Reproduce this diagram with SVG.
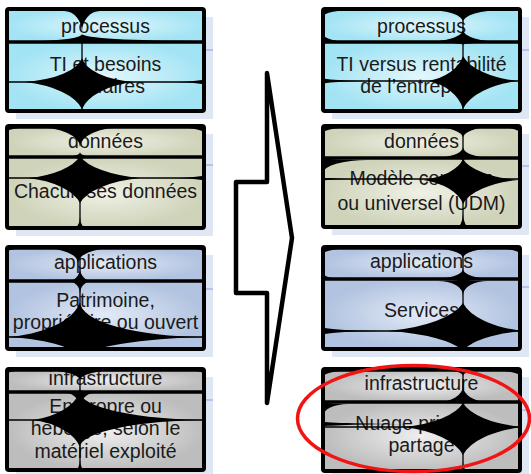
<svg xmlns="http://www.w3.org/2000/svg" width="531" height="474" viewBox="0 0 531 474">
<style>
.sh{fill:#dfe6f4}
.shl{stroke:#b3c4e6;stroke-width:2}
.box{fill:none;stroke:#000;stroke-width:4}
.div{stroke:#000;stroke-width:3.5}
.blk{fill:#000}
.tl{stroke:#000;stroke-width:1.3;fill:none}
.t{font-family:"Liberation Sans",Arial,sans-serif;font-size:19.5px;fill:#1a1a1a;text-anchor:middle}
.arrow{fill:#fff;stroke:#000;stroke-width:4.5;stroke-linejoin:round}
.ring{fill:none;stroke:#f01414;stroke-width:3.5}
</style>
<defs>
<radialGradient id="gc"><stop offset="0" stop-color="#e2f7fc"/><stop offset="1" stop-color="#a3e4f4"/></radialGradient>
<radialGradient id="gb"><stop offset="0" stop-color="#f0f1e6"/><stop offset="1" stop-color="#cfd3b9"/></radialGradient>
<radialGradient id="ga"><stop offset="0" stop-color="#e3eaf6"/><stop offset="1" stop-color="#b1c3e0"/></radialGradient>
<radialGradient id="gg"><stop offset="0" stop-color="#efefef"/><stop offset="1" stop-color="#bdbdbd"/></radialGradient>
<clipPath id="cL1"><rect x="7" y="9" width="197" height="102"/></clipPath>
<clipPath id="cL2"><rect x="7" y="126" width="197" height="102"/></clipPath>
<clipPath id="cL3"><rect x="7" y="247" width="197" height="102"/></clipPath>
<clipPath id="cL4"><rect x="7" y="369" width="197" height="101"/></clipPath>
<clipPath id="cR1"><rect x="323" y="9" width="197" height="102"/></clipPath>
<clipPath id="cR2"><rect x="323" y="126" width="197" height="101"/></clipPath>
<clipPath id="cR3"><rect x="323" y="247" width="197" height="102"/></clipPath>
<clipPath id="cR4"><rect x="323" y="369" width="197" height="102"/></clipPath>
</defs>

<g id="shadows">
<rect class="sh" x="16" y="17" width="197" height="102"/>
<rect class="sh" x="16" y="134" width="197" height="102"/>
<rect class="sh" x="16" y="255" width="197" height="102"/>
<rect class="sh" x="16" y="377" width="197" height="101"/>
<rect class="sh" x="332" y="17" width="197" height="102"/>
<rect class="sh" x="332" y="134" width="197" height="101"/>
<rect class="sh" x="332" y="255" width="197" height="102"/>
<rect class="sh" x="332" y="377" width="197" height="102"/>
<path class="shl" d="M204,50H213M204,165H213M204,289H213M204,400H213M520,50H529M520,166H529M520,287H529M520,410H529"/>
</g>

<g id="connectors">
<polygon class="arrow" points="267,73 292,238 267,403 267,293 236,293 236,182 267,182"/>
</g>

<g id="left-processus">
<rect x="7" y="9" width="197" height="33" fill="url(#gc)"/>
<rect x="7" y="42" width="197" height="69" fill="url(#gc)"/>
<text class="t" x="105.5" y="33">processus</text>
<text class="t" x="105.5" y="71">TI et besoins</text>
<text class="t" x="105.5" y="93">d’affaires</text>
<g clip-path="url(#cL1)">
<path class="blk" d="M64,11 A18,2 0 0 0 82,9 A18,2 0 0 0 100,11 A18,21 0 0 0 82,32 A18,21 0 0 0 64,11Z
M32,41 A50,7 0 0 0 82,34 A115,7 0 0 0 197,41 A115,1 0 0 0 82,42 A50,1 0 0 0 32,41Z
M25,82 A70,28 0 0 0 82,58 A63,28 0 0 0 133,82 A69,36 0 0 0 82,109 A77,36 0 0 0 25,82Z
M173,82 A41,7 0 0 0 214,75 A10,7 0 0 0 224,82 A10,7 0 0 0 214,89 A41,7 0 0 0 173,82Z"/>
<path class="tl" d="M7,82H204M82,42V111"/>
</g>
<rect class="box" x="7" y="9" width="197" height="102" rx="2"/>
<path class="div" d="M7,42H204"/>
</g>

<g id="right-processus">
<rect x="323" y="9" width="197" height="33" fill="url(#gc)"/>
<rect x="323" y="42" width="197" height="69" fill="url(#gc)"/>
<text class="t" x="421.5" y="33">processus</text>
<text class="t" x="421.5" y="71">TI versus rentabilité</text>
<text class="t" x="421.5" y="93">de l’entreprise</text>
<g clip-path="url(#cR1)">
<path class="blk" d="M428,10 A35,2 0 0 0 463,8 A40,2 0 0 0 503,10 A40,12 0 0 0 463,22 A35,12 0 0 0 428,10Z
M423,42 A40,12 0 0 0 463,30 A40,12 0 0 0 503,42 A40,3 0 0 0 463,45 A40,3 0 0 0 423,42Z
M318,10 A5,2 0 0 0 323,8 A30,2 0 0 0 353,10 A30,7 0 0 0 323,17 A5,7 0 0 0 318,10Z
M318,42 A5,8 0 0 0 323,34 A30,8 0 0 0 353,42 A30,2 0 0 0 323,44 A5,2 0 0 0 318,42Z
M428,81 A47,34 0 0 0 463,56 A74,34 0 0 0 518,81 A74,38 0 0 0 463,109 A47,38 0 0 0 428,81Z
M311,81 A5,5 0 0 0 316,76 A50,5 0 0 0 366,81 A50,5 0 0 0 316,86 A5,5 0 0 0 311,81Z"/>
<path class="tl" d="M323,81H520M463,9V111"/>
</g>
<rect class="box" x="323" y="9" width="197" height="102" rx="2"/>
<path class="div" d="M323,42H520"/>
</g>

<g id="left-donnees">
<rect x="7" y="126" width="197" height="31" fill="url(#gb)"/>
<rect x="7" y="157" width="197" height="71" fill="url(#gb)"/>
<text class="t" x="105.5" y="148">données</text>
<text class="t" x="105.5" y="198">Chacun ses données</text>
<g clip-path="url(#cL2)">
<path class="blk" d="M35,127 A45,2 0 0 0 80,125 A45,2 0 0 0 125,127 A45,20 0 0 0 80,147 A45,20 0 0 0 35,127Z
M169,127 A35,2 0 0 0 204,125 A5,2 0 0 0 209,127 A5,6 0 0 0 204,133 A35,6 0 0 0 169,127Z
M2,127 A5,2 0 0 0 7,125 A30,2 0 0 0 37,127 A30,5 0 0 0 7,132 A5,5 0 0 0 2,127Z
M65,157 A15,5 0 0 0 80,152 A15,5 0 0 0 95,157 A15,3 0 0 0 80,160 A15,3 0 0 0 65,157Z
M28,178 A70,30 0 0 0 80,156 A81,30 0 0 0 140,178 A81,34 0 0 0 80,203 A70,34 0 0 0 28,178Z
M72,229 A8,12 0 0 0 80,217 A8,12 0 0 0 88,229 A8,2 0 0 0 80,231 A8,2 0 0 0 72,229Z
M173,178 A41,7 0 0 0 214,171 A10,7 0 0 0 224,178 A10,7 0 0 0 214,185 A41,7 0 0 0 173,178Z"/>
<path class="tl" d="M7,178H204M80,157V228M7,128H204"/>
</g>
<rect class="box" x="7" y="126" width="197" height="102" rx="2"/>
<path class="div" d="M7,157H204"/>
</g>

<g id="right-donnees">
<rect x="323" y="126" width="197" height="32" fill="url(#gb)"/>
<rect x="323" y="158" width="197" height="69" fill="url(#gb)"/>
<text class="t" x="421.5" y="148">données</text>
<text class="t" x="421.5" y="185">Modèle commun</text>
<text class="t" x="421.5" y="210">ou universel (UDM)</text>
<g clip-path="url(#cR2)">
<path class="blk" d="M433,127 A30,2 0 0 0 463,125 A30,2 0 0 0 493,127 A30,11 0 0 0 463,138 A30,11 0 0 0 433,127Z
M433,158 A30,11 0 0 0 463,147 A30,11 0 0 0 493,158 A30,2 0 0 0 463,160 A30,2 0 0 0 433,158Z
M318,127 A5,2 0 0 0 323,125 A35,2 0 0 0 358,127 A35,6 0 0 0 323,133 A5,6 0 0 0 318,127Z
M495,127 A25,2 0 0 0 520,125 A5,2 0 0 0 525,127 A5,6 0 0 0 520,133 A25,6 0 0 0 495,127Z
M318,160 A5,2 0 0 0 323,158 A45,2 0 0 0 368,160 A45,13 0 0 0 323,173 A5,13 0 0 0 318,160Z
M423,180 A54,28 0 0 0 463,159 A74,28 0 0 0 518,180 A74,32 0 0 0 463,204 A54,32 0 0 0 423,180Z
M311,179 A5,3 0 0 0 316,176 A40,3 0 0 0 356,179 A40,3 0 0 0 316,182 A5,3 0 0 0 311,179Z
M455,228 A8,14 0 0 0 463,214 A8,14 0 0 0 471,228 A8,2 0 0 0 463,230 A8,2 0 0 0 455,228Z"/>
<path class="tl" d="M323,179H520M463,126V227M323,128H520"/>
</g>
<rect class="box" x="323" y="126" width="197" height="101" rx="2"/>
<path class="div" d="M323,158H520"/>
</g>

<g id="left-applications">
<rect x="7" y="247" width="197" height="34" fill="url(#ga)"/>
<rect x="7" y="281" width="197" height="68" fill="url(#ga)"/>
<text class="t" x="105.5" y="269">applications</text>
<text class="t" x="105.5" y="307">Patrimoine,</text>
<text class="t" x="105.5" y="329">propriétaire ou ouvert</text>
<g clip-path="url(#cL3)">
<path class="blk" d="M43,248 A35,2 0 0 0 78,246 A35,2 0 0 0 113,248 A35,15 0 0 0 78,263 A35,15 0 0 0 43,248Z
M2,248 A5,2 0 0 0 7,246 A25,2 0 0 0 32,248 A25,4 0 0 0 7,252 A5,4 0 0 0 2,248Z
M179,248 A25,2 0 0 0 204,246 A5,2 0 0 0 209,248 A5,4 0 0 0 204,252 A25,4 0 0 0 179,248Z
M68,281 A12,13 0 0 0 80,268 A12,13 0 0 0 92,281 A12,13 0 0 0 80,294 A12,13 0 0 0 68,281Z
M5,337 A85,42 0 0 0 80,302 A125,35 0 0 0 205,337 A150,24 0 0 0 80,357 A90,24 0 0 0 5,337Z"/>
<path class="tl" d="M7,249H204M80,247V349M7,337H204"/>
</g>
<rect class="box" x="7" y="247" width="197" height="102" rx="2"/>
<path class="div" d="M7,281H204"/>
</g>

<g id="right-applications">
<rect x="323" y="247" width="197" height="32" fill="url(#ga)"/>
<rect x="323" y="279" width="197" height="70" fill="url(#ga)"/>
<text class="t" x="421.5" y="268">applications</text>
<text class="t" x="421.5" y="317">Services</text>
<g clip-path="url(#cR3)">
<path class="blk" d="M428,248 A35,2 0 0 0 463,246 A35,2 0 0 0 498,248 A35,10 0 0 0 463,258 A35,10 0 0 0 428,248Z
M433,279 A30,10 0 0 0 463,269 A30,10 0 0 0 493,279 A30,2 0 0 0 463,281 A30,2 0 0 0 433,279Z
M318,248 A5,2 0 0 0 323,246 A35,2 0 0 0 358,248 A35,6 0 0 0 323,254 A5,6 0 0 0 318,248Z
M318,279 A5,6 0 0 0 323,273 A20,6 0 0 0 343,279 A20,2 0 0 0 323,281 A5,2 0 0 0 318,279Z
M490,248 A30,2 0 0 0 520,246 A5,2 0 0 0 525,248 A5,6 0 0 0 520,254 A30,6 0 0 0 490,248Z
M438,281 A25,2 0 0 0 463,279 A25,2 0 0 0 488,281 A25,14 0 0 0 463,295 A25,14 0 0 0 438,281Z
M388,331 A101,38 0 0 0 463,303 A81,38 0 0 0 523,331 A81,27 0 0 0 463,351 A101,27 0 0 0 388,331Z
M311,331 A5,6 0 0 0 316,325 A65,6 0 0 0 381,331 A65,6 0 0 0 316,337 A5,6 0 0 0 311,331Z"/>
<path class="tl" d="M323,331H520M463,247V349M323,249H520"/>
</g>
<rect class="box" x="323" y="247" width="197" height="102" rx="2"/>
<path class="div" d="M323,279H520"/>
</g>

<g id="left-infrastructure">
<rect x="7" y="369" width="197" height="23" fill="url(#gg)"/>
<rect x="7" y="392" width="197" height="78" fill="url(#gg)"/>
<text class="t" x="105.5" y="385">infrastructure</text>
<text class="t" x="105.5" y="413">En propre ou</text>
<text class="t" x="105.5" y="435">hébergé, selon le</text>
<text class="t" x="105.5" y="458">matériel exploité</text>
<g clip-path="url(#cL4)">
<path class="blk" d="M40,370 A40,2 0 0 0 80,368 A40,2 0 0 0 120,370 A40,10 0 0 0 80,380 A40,10 0 0 0 40,370Z
M2,370 A5,2 0 0 0 7,368 A25,2 0 0 0 32,370 A25,4 0 0 0 7,374 A5,4 0 0 0 2,370Z
M179,370 A25,2 0 0 0 204,368 A5,2 0 0 0 209,370 A5,4 0 0 0 204,374 A25,4 0 0 0 179,370Z
M66,393 A14,4 0 0 0 80,389 A14,4 0 0 0 94,393 A14,16 0 0 0 80,409 A14,16 0 0 0 66,393Z
M33,420 A63,38 0 0 0 80,392 A130,28 0 0 0 210,420 A130,27 0 0 0 80,447 A63,36 0 0 0 33,420Z
M74,471 A6,12 0 0 0 80,459 A6,12 0 0 0 86,471 A6,2 0 0 0 80,473 A6,2 0 0 0 74,471Z"/>
<path class="tl" d="M7,371H204M80,369V470M7,420H204"/>
</g>
<rect class="box" x="7" y="369" width="197" height="101" rx="2"/>
<path class="div" d="M7,392H204"/>
</g>

<g id="right-infrastructure">
<rect x="323" y="369" width="197" height="33" fill="url(#gg)"/>
<rect x="323" y="402" width="197" height="69" fill="url(#gg)"/>
<text class="t" x="421.5" y="390">infrastructure</text>
<text class="t" x="421.5" y="430">Nuage privé ou</text>
<text class="t" x="421.5" y="452">partagé</text>
<g clip-path="url(#cR4)">
<path class="blk" d="M443,370 A20,2 0 0 0 463,368 A20,2 0 0 0 483,370 A20,6 0 0 0 463,376 A20,6 0 0 0 443,370Z
M438,402 A25,16 0 0 0 463,386 A25,16 0 0 0 488,402 A25,2 0 0 0 463,404 A25,2 0 0 0 438,402Z
M318,370 A5,2 0 0 0 323,368 A35,2 0 0 0 358,370 A35,7 0 0 0 323,377 A5,7 0 0 0 318,370Z
M485,370 A35,2 0 0 0 520,368 A5,2 0 0 0 525,370 A5,6 0 0 0 520,376 A35,6 0 0 0 485,370Z
M403,427 A81,32 0 0 0 463,403 A81,32 0 0 0 523,427 A81,38 0 0 0 463,455 A81,38 0 0 0 403,427Z
M316,424 A5,3 0 0 0 321,421 A90,3 0 0 0 411,424 A90,3 0 0 0 321,427 A5,3 0 0 0 316,424Z
M457,472 A6,10 0 0 0 463,462 A6,10 0 0 0 469,472 A6,2 0 0 0 463,474 A6,2 0 0 0 457,472Z
M318,404 A5,2 0 0 0 323,402 A25,2 0 0 0 348,404 A25,12 0 0 0 323,416 A5,12 0 0 0 318,404Z"/>
<path class="tl" d="M323,371H520M463,369V471M323,427H520"/>
</g>
<rect class="box" x="323" y="369" width="197" height="102" rx="2"/>
<path class="div" d="M323,402H520"/>
</g>

<g id="highlight">
<ellipse class="ring" cx="413.5" cy="418.5" rx="116" ry="53"/>
</g>
</svg>
